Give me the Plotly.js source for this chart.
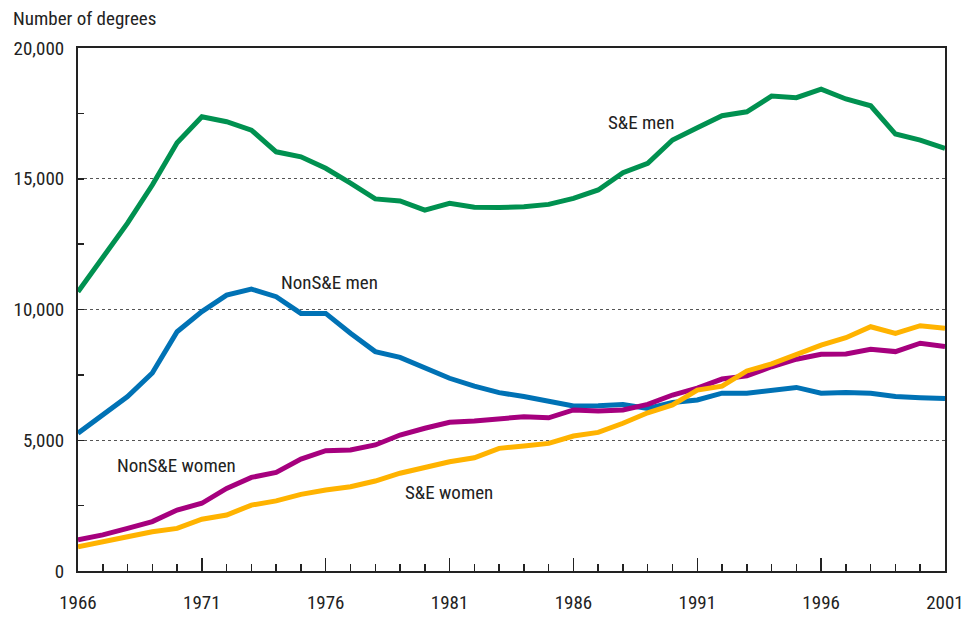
<!DOCTYPE html>
<html>
<head>
<meta charset="utf-8">
<script src="https://cdn.plot.ly/plotly-3.0.1.min.js"></script>
<style>html,body{margin:0;padding:0;background:#fff;}#chart{width:967px;height:617px;}</style>
</head>
<body>
<div id="chart"></div>
<script>
const years = [1966,1967,1968,1969,1970,1971,1972,1973,1974,1975,1976,1977,1978,1979,1980,1981,1982,1983,1984,1985,1986,1987,1988,1989,1990,1991,1992,1993,1994,1995,1996,1997,1998,1999,2000,2001];
const seMen = [10680,12020,13300,14760,16380,17370,17180,16860,16030,15840,15400,14830,14230,14150,13800,14060,13910,13900,13930,14020,14250,14570,15230,15590,16480,16950,17410,17560,18160,18100,18430,18050,17790,16710,16480,16160];
const nonSeMen = [5270,5970,6670,7570,9150,9920,10550,10780,10490,9850,9850,9090,8390,8170,7780,7370,7070,6820,6670,6500,6310,6320,6370,6220,6440,6540,6800,6800,6900,7020,6800,6830,6800,6670,6630,6600];
const nonSeWomen = [1190,1380,1630,1890,2330,2590,3160,3580,3770,4280,4600,4630,4820,5200,5460,5690,5740,5800,5900,5860,6160,6120,6160,6370,6730,6990,7340,7460,7810,8100,8290,8300,8480,8390,8710,8580];
const seWomen = [930,1100,1310,1500,1630,1980,2140,2520,2680,2930,3100,3220,3440,3740,3950,4180,4330,4690,4780,4880,5160,5300,5650,6050,6350,6920,7070,7650,7920,8290,8640,8920,9340,9090,9380,9280];
const xTicks = [1966,1971,1976,1981,1986,1991,1996,2001];
const yTicks = [0,5000,10000,15000,20000];
const seriesNames = ["S&E men","NonS&E men","NonS&E women","S&E women"];

const FONT = "'Liberation Sans Narrow','Arial Narrow','Roboto Condensed',Roboto,'Liberation Sans',Arial,sans-serif";
const colors = ["#009150","#0072B5","#A6007E","#FFB300"];
const allSeries = [seMen, nonSeMen, nonSeWomen, seWomen];

const traces = allSeries.map((ys, i) => ({
  x: years, y: ys, type: 'scatter', mode: 'lines', name: seriesNames[i],
  line: {color: colors[i], width: 5}, hoverinfo: 'skip'
}));

const labels = [
  {x: 1987.3, y: 17170, text: seriesNames[0]},
  {x: 1974.1, y: 11050, text: seriesNames[1]},
  {x: 1967.5, y: 4050, text: seriesNames[2]},
  {x: 1979.1, y: 3020, text: seriesNames[3]}
];

const layout = {
  width: 967, height: 617,
  margin: {l: 78, r: 22, t: 48, b: 46},
  paper_bgcolor: '#fff', plot_bgcolor: '#fff',
  showlegend: false,
  font: {family: FONT, size: 19, color: '#222'},
  xaxis: {
    range: [1966, 2001], tickvals: xTicks, ticktext: xTicks.map(String),
    showline: true, linecolor: '#222', linewidth: 2, mirror: true,
    ticks: 'inside', ticklen: 13, tickcolor: '#222', tickwidth: 1.5,
    minor: {dtick: 1, tick0: 1966, ticks: 'inside', ticklen: 7, tickcolor: '#222', tickwidth: 1.5, showgrid: false},
    showgrid: false, zeroline: false, ticklabelstandoff: 13,
    tickfont: {family: FONT, size: 19, color: '#222'}
  },
  yaxis: {
    range: [0, 20000], tickvals: yTicks, tickformat: ',d',
    showline: true, linecolor: '#222', linewidth: 2, mirror: true,
    ticks: 'inside', ticklen: 6, tickcolor: '#222', tickwidth: 1.5,
    minor: {dtick: 2500, tick0: 0, ticks: 'inside', ticklen: 6, tickcolor: '#222', tickwidth: 1.5, showgrid: false},
    showgrid: true, gridcolor: '#555', gridwidth: 1, griddash: 'dot',
    zeroline: false, ticklabelstandoff: 8,
    tickfont: {family: FONT, size: 19, color: '#222'}
  },
  annotations: labels.map(l => ({
    x: l.x, y: l.y, xref: 'x', yref: 'y', text: l.text, showarrow: false,
    xanchor: 'left', yanchor: 'middle', font: {family: FONT, size: 19, color: '#222'}
  })).concat([{
    xref: 'paper', yref: 'paper', x: -0.077, y: 1.057, xanchor: 'left', yanchor: 'middle',
    text: 'Number of degrees', showarrow: false, font: {family: FONT, size: 19, color: '#222'}
  }])
};

Plotly.newPlot('chart', traces, layout, {displayModeBar: false, staticPlot: true});
</script>
</body>
</html>
